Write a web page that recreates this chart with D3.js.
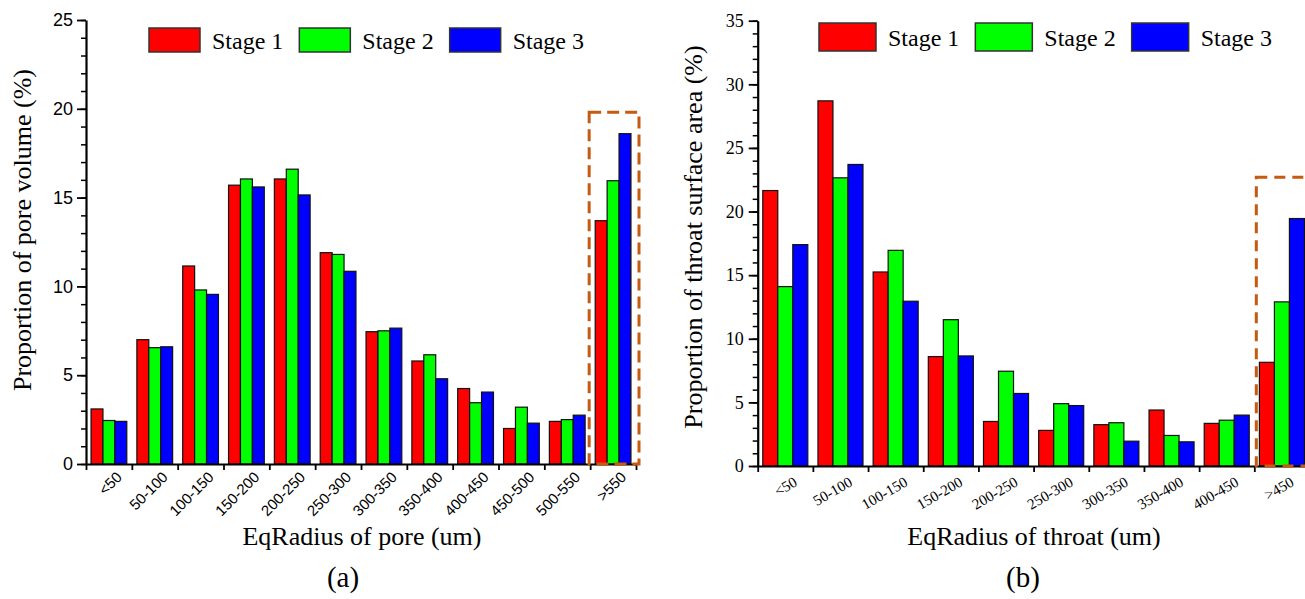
<!DOCTYPE html>
<html>
<head>
<meta charset="utf-8">
<script src="https://cdn.jsdelivr.net/npm/d3@7"></script>
<style>
body{margin:0;background:#fff}
svg{display:block}
</style>
</head>
<body>
<div id="chart"></div>
<script>
/* two grouped bar charts: pore volume (a) and throat surface area (b) */

const stages = ['Stage 1','Stage 2','Stage 3']
const stageColors = ['#ff0000','#00ff00','#0000ff']

// (a) pore volume
const poreCats = ['<50','50-100','100-150','150-200','200-250','250-300','300-350','350-400','400-450','450-500','500-550','>550']
const poreStage1 = [3.1,7.0,11.15,15.7,16.05,11.9,7.45,5.8,4.25,2.0,2.4,13.7]
const poreStage2 = [2.45,6.55,9.8,16.05,16.6,11.8,7.5,6.15,3.45,3.2,2.5,15.95]
const poreStage3 = [2.4,6.6,9.55,15.6,15.15,10.85,7.65,4.8,4.05,2.3,2.75,18.6]
const poreTicks = [0,5,10,15,20,25]

// (b) throat surface area
const throatCats = ['<50','50-100','100-150','150-200','200-250','250-300','300-350','350-400','400-450','>450']
const throatStage1 = [21.65,28.7,15.25,8.6,3.5,2.8,3.25,4.4,3.35,8.15]
const throatStage2 = [14.1,22.65,16.95,11.5,7.45,4.9,3.4,2.4,3.6,12.9]
const throatStage3 = [17.4,23.7,12.95,8.65,5.7,4.75,1.95,1.9,4.0,19.45]
const throatTicks = [0,5,10,15,20,25,30,35]

const SERIF = '"Liberation Serif","DejaVu Serif","Times New Roman",Times,serif'
const SANS = '"Liberation Sans",Arial,Helvetica,sans-serif'

const width = 1305
const height = 599

const svg = d3.select('#chart').append('svg')
	.attr('width',width)
	.attr('height',height)

function drawPanel(p){
	const g = svg.append('g')
	const n = p.cats.length
	const x = d3.scaleBand().domain(p.cats).range([p.left,p.right])
	//linear scale on the category index, for the ticks between groups
	const xi = d3.scaleLinear().domain([0,n]).range([p.left,p.right])
	const bw = x.bandwidth()
	const x1 = d3.scaleBand().domain(stages).range([bw*p.pad,bw*(1-p.pad)])
	const yMax = d3.max(p.ticks)
	const y = d3.scaleLinear().domain([0,yMax]).range([p.bottom,p.top])

	const rows = p.cats.map(function(c,i){
		return {cat:c,vals:p.series.map(function(s,j){ return {stage:stages[j],v:s[i],color:stageColors[j]} })}
	})

	//bars
	g.selectAll('.grp')
		.data(rows)
		.join('g')
		.attr('class','grp')
		.attr('transform',function(d){ return `translate(${x(d.cat)},0)` })
		.selectAll('rect')
		.data(function(d){ return d.vals })
		.join('rect')
		.attr('x',function(d){ return x1(d.stage) })
		.attr('width',x1.bandwidth())
		.attr('y',function(d){ return y(d.v) })
		.attr('height',function(d){ return p.bottom - y(d.v) })
		.attr('fill',function(d){ return d.color })
		.attr('stroke','#111')
		.attr('stroke-width',1.2)

	//minor y ticks
	g.append('g')
		.attr('transform',`translate(${p.left},0)`)
		.call(d3.axisLeft(y).tickValues(d3.range(0,yMax+1,1)).tickSize(5).tickFormat(''))
		.call(function(a){ a.select('.domain').remove() })
		.selectAll('line').attr('stroke-width',1.5)

	//major y ticks
	const yAxis = g.append('g')
		.attr('transform',`translate(${p.left},0)`)
		.call(d3.axisLeft(y).tickValues(p.ticks).tickSize(9).tickSizeOuter(0).tickPadding(p.yPad))
	yAxis.select('.domain').attr('stroke-width',2.2)
	yAxis.selectAll('line').attr('stroke-width',1.8)
	yAxis.selectAll('text')
		.style('font-family',p.yFont)
		.style('font-size','18px')
		.attr('fill','#000')

	//x axis, ticks at group borders
	const xAxis = g.append('g')
		.attr('transform',`translate(0,${p.bottom})`)
		.call(d3.axisBottom(xi).tickValues(d3.range(0,n+1)).tickSize(6).tickSizeOuter(0).tickFormat(''))
	xAxis.select('.domain').attr('stroke-width',2.2)
	xAxis.selectAll('line').attr('stroke-width',1.8)

	//category labels, rotated
	g.selectAll('.xlab')
		.data(p.cats)
		.join('text')
		.attr('class','xlab')
		.attr('transform',function(d){ return `translate(${x(d)+bw/2+p.labDx},${p.bottom+p.labDy}) rotate(${p.labRot})` })
		.attr('text-anchor','end')
		.style('font-family',p.xFont)
		.style('font-size',p.labSize + 'px')
		.text(function(d){ return d })

	//highlight box
	g.append('rect')
		.attr('x',x(p.boxCat)+p.boxX[0])
		.attr('width',bw+p.boxX[1]-p.boxX[0])
		.attr('y',y(p.boxTop))
		.attr('height',p.bottom-y(p.boxTop))
		.attr('fill','none')
		.attr('stroke','#c55a11')
		.attr('stroke-width',3)
		.attr('stroke-dasharray',p.dash)

	//legend
	let lx = p.legX
	stages.forEach(function(s,i){
		g.append('rect')
			.attr('x',lx).attr('y',p.legY)
			.attr('width',p.legW).attr('height',p.legH)
			.attr('fill',stageColors[i])
			.attr('stroke','#333')
			.attr('stroke-width',1.5)
		const t = g.append('text')
			.attr('x',lx+p.legW+12)
			.attr('y',p.legBase)
			.style('font-family',SERIF)
			.style('font-size','24px')
			.text(s)
		lx = lx + p.legW + 12 + t.node().getComputedTextLength() + 16
	})

	//titles
	g.append('text')
		.attr('transform',`translate(${p.yTitleX},${p.yTitleY}) rotate(-90)`)
		.attr('text-anchor','middle')
		.style('font-family',SERIF)
		.style('font-size','26px')
		.text(p.yTitle)
	g.append('text')
		.attr('x',p.xTitleX)
		.attr('y',545)
		.attr('text-anchor','middle')
		.style('font-family',SERIF)
		.style('font-size','26px')
		.text(p.xTitle)
	g.append('text')
		.attr('x',p.tagX)
		.attr('y',587)
		.attr('text-anchor','middle')
		.style('font-family',SERIF)
		.style('font-size','29px')
		.text(p.tag)
}

drawPanel({
	cats:poreCats,
	series:[poreStage1,poreStage2,poreStage3],
	ticks:poreTicks,
	left:86,right:636,top:20,bottom:464,pad:0.11,
	yFont:SANS,yPad:4,xFont:SANS,
	labDx:14,labDy:14,labRot:-45,labSize:15,
	boxCat:'>550',boxTop:19.8,boxX:[-1,3],dash:'12,6',
	legX:149,legY:28,legW:51,legH:24,legBase:49,
	yTitle:'Proportion of pore volume (%)',yTitleX:31,yTitleY:230,
	xTitle:'EqRadius of pore (um)',xTitleX:362,
	tag:'(a)',tagX:343
})

drawPanel({
	cats:throatCats,
	series:[throatStage1,throatStage2,throatStage3],
	ticks:throatTicks,
	left:757.7,right:1309.5,top:20.7,bottom:466,pad:0.092,
	yFont:SERIF,yPad:5,xFont:SERIF,
	labDx:13,labDy:19,labRot:-30,labSize:15,
	boxCat:'>450',boxTop:22.7,boxX:[2,10],dash:'11,7',
	legX:819,legY:23,legW:57,legH:28,legBase:46,
	yTitle:'Proportion of throat surface area (%)',yTitleX:702,yTitleY:237,
	xTitle:'EqRadius of throat (um)',xTitleX:1034,
	tag:'(b)',tagX:1023
})
</script>
</body>
</html>
